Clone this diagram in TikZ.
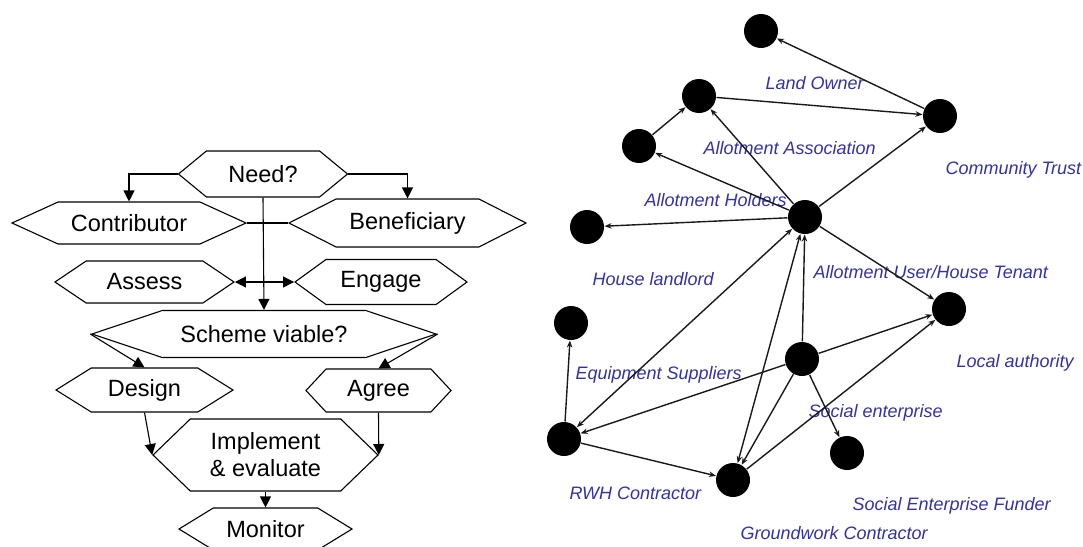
\documentclass[tikz,border=0pt]{standalone}
\usepackage{fontspec}
\setmainfont{Liberation Sans}
\usetikzlibrary{shapes.symbols,arrows.meta}
\definecolor{lblblue}{RGB}{50,50,165}
\tikzset{
  hexa/.style={signal, signal to=east and west, draw, line width=1.1pt, inner sep=0pt,
    font=\fontsize{23.5}{27}\selectfont, align=center},
  actor/.style={circle, fill=black, minimum size=34pt, inner sep=0pt},
  actorlbl/.style={anchor=west, inner sep=0pt, text=lblblue, font=\fontsize{18}{20}\selectfont\itshape},
  link/.style={line width=1.4pt, black!90, >={Stealth[length=7pt,width=5.5pt]}}
}
\begin{document}
\begin{tikzpicture}[x=1pt,y=-1pt,>={Triangle[length=11pt,width=11pt]},line width=1.1pt]
    \useasboundingbox (0,0) rectangle (1083,546);
    \begin{scope}
        \node[hexa, minimum width=169pt, minimum height=46pt, signal pointer angle=79] (need) at (263,174) {Need?};
        \node[hexa, minimum width=234pt, minimum height=42pt, signal pointer angle=49] (contrib) at (129,223) {Contributor};
        \node[hexa, minimum width=237pt, minimum height=48pt, signal pointer angle=54] (benef) at (407.5,223) {Beneficiary};
        \node[hexa, minimum width=179pt, minimum height=42pt, signal pointer angle=68] (assess) at (144.5,282) {Assess};
        \node[hexa, minimum width=172pt, minimum height=45pt, signal pointer angle=72] (engage) at (381,282) {Engage};
        \node[hexa, minimum width=344pt, minimum height=47pt, signal pointer angle=37] (scheme) at (264,334) {Scheme viable?};
        \node[hexa, minimum width=177pt, minimum height=44pt, signal pointer angle=64] (design) at (144.5,390) {Design};
        \node[hexa, minimum width=145pt, minimum height=43pt, signal pointer angle=94] (agree) at (378.5,390.5) {Agree};
        \node[hexa, minimum width=225pt, minimum height=72pt, signal pointer angle=88] (implement) at (265.5,455) {Implement\\\& evaluate};
        \node[hexa, minimum width=173pt, minimum height=42pt, signal pointer angle=63] (monitor) at (265.5,529) {Monitor};
        \draw[->] (need.west) -| (contrib.north);
        \draw[->] (need.east) -| (benef.north);
        \draw (contrib.east) -- (benef.west);
        \draw[<->] (assess.east) -- (engage.west);
        \draw[->] (need.south) -- (scheme.north);
        \draw[->] (scheme.west) -- (design.north);
        \draw[->] (scheme.east) -- (agree.north);
        \draw[->] (design.south) -- (implement.west);
        \draw[->] (agree.south) -- (implement.east);
        \draw[->] (implement.south) -- (monitor.north);
    \end{scope}
    \begin{scope}
        \node[actor] (lo) at (761,31) {};
        \node[actor] (aa) at (699,96) {};
        \node[actor] (ah) at (639,146) {};
        \node[actor] (ct) at (940,116) {};
        \node[actor] (hl) at (587,227) {};
        \node[actor] (au) at (805,217) {};
        \node[actor] (la) at (949,309) {};
        \node[actor] (es) at (571,323) {};
        \node[actor] (se) at (802,359) {};
        \node[actor] (rwh) at (564,439) {};
        \node[actor] (gc) at (733,480) {};
        \node[actor] (sef) at (847,453) {};
        \node[actorlbl] at ([xshift=4pt,yshift=-52pt]lo.center) {Land Owner};
        \node[actorlbl] at ([xshift=4pt,yshift=-52pt]aa.center) {Allotment Association};
        \node[actorlbl] at ([xshift=5pt,yshift=-54pt]ah.center) {Allotment Holders};
        \node[actorlbl] at ([xshift=5pt,yshift=-54pt]ct.center) {Community Trust};
        \node[actorlbl] at ([xshift=5pt,yshift=-52pt]hl.center) {House landlord};
        \node[actorlbl] at ([xshift=8pt,yshift=-55pt]au.center) {Allotment User/House Tenant};
        \node[actorlbl] at ([xshift=7pt,yshift=-54pt]la.center) {Local authority};
        \node[actorlbl] at ([xshift=4pt,yshift=-52pt]es.center) {Equipment Suppliers};
        \node[actorlbl] at ([xshift=6pt,yshift=-54pt]se.center) {Social enterprise};
        \node[actorlbl] at ([xshift=5pt,yshift=-54pt]rwh.center) {RWH Contractor};
        \node[actorlbl] at ([xshift=5pt,yshift=-53pt]sef.center) {Social Enterprise Funder};
        \node[actorlbl] at ([xshift=7pt,yshift=-53pt]gc.center) {Groundwork Contractor};
        \draw[link,->] (ct) -- (lo);
        \draw[link,->] (aa) -- (ct);
        \draw[link,->] (au) -- (ct);
        \draw[link,->] (ah) -- (aa);
        \draw[link,->] (au) -- (aa);
        \draw[link,->] (au) -- (ah);
        \draw[link,->] (au) -- (hl);
        \draw[link,->] (au) -- (la);
        \draw[link,<->] (rwh) -- (au);
        \draw[link,<->] (gc) -- (au);
        \draw[link,->] (se) -- (au);
        \draw[link,->] (se) -- (rwh);
        \draw[link,->] (se) -- (gc);
        \draw[link,->] (se) -- (la);
        \draw[link,->] (se) -- (sef);
        \draw[link,->] (rwh) -- (es);
        \draw[link,->] (rwh) -- (gc);
        \draw[link,->] (gc) -- (la);
    \end{scope}
\end{tikzpicture}
\end{document}
